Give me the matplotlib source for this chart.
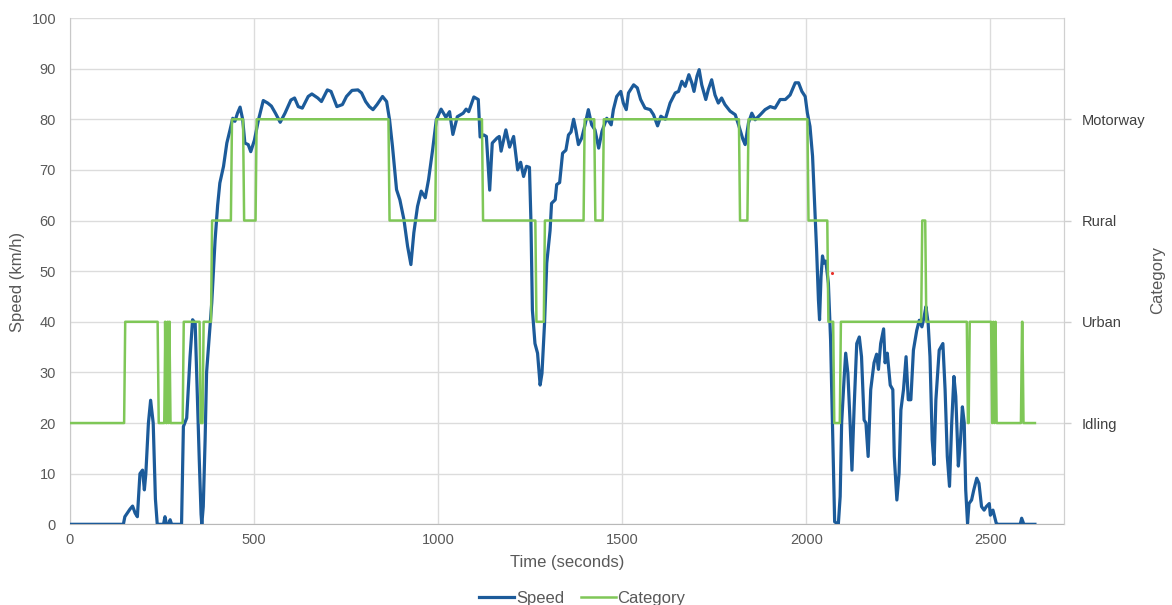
import matplotlib
matplotlib.use("Agg")
import matplotlib.pyplot as plt

# Speed trace (time in s, speed in km/h)
speed_t = [0, 145, 149, 163, 170, 177, 183, 190, 197, 202, 206, 213, 219, 226, 232, 237,
           254, 258, 262, 268, 272, 276, 303, 308, 317, 326, 333, 340, 344, 351, 356, 358,
           362, 367, 371, 378, 385, 394, 401, 407, 417, 426, 435, 442, 448, 455, 462, 469,
           475, 484, 491, 501, 512, 525, 537, 547, 558, 571, 584, 600, 610, 620, 631, 647,
           657, 673, 683, 699, 709, 725, 740, 751, 766, 782, 792, 803, 813, 823, 834, 849,
           860, 868, 876, 887, 896, 907, 917, 926, 934, 944, 954, 965, 974, 985, 995, 1008,
           1021, 1031, 1040, 1052, 1068, 1076, 1083, 1097, 1109, 1114, 1124, 1131, 1140, 1147,
           1160, 1166, 1171, 1184, 1194, 1205, 1216, 1224, 1232, 1240, 1248, 1252, 1256, 1263,
           1270, 1277, 1282, 1289, 1295, 1304, 1308, 1318, 1322, 1330, 1338, 1347, 1354, 1361,
           1368, 1374, 1381, 1390, 1399, 1408, 1417, 1426, 1436, 1445, 1458, 1470, 1476, 1485,
           1496, 1503, 1511, 1517, 1531, 1541, 1550, 1562, 1576, 1585, 1596, 1605, 1617, 1630,
           1644, 1653, 1662, 1671, 1681, 1689, 1695, 1703, 1709, 1716, 1727, 1734, 1743, 1752,
           1761, 1770, 1779, 1793, 1807, 1816, 1828, 1834, 1843, 1852, 1861, 1875, 1888, 1902,
           1915, 1929, 1943, 1956, 1970, 1979, 1988, 1997, 2003, 2010, 2017, 2024, 2028, 2033,
           2036, 2040, 2044, 2048, 2053, 2060, 2066, 2072, 2077, 2087, 2092, 2096, 2103, 2107,
           2113, 2119, 2124, 2130, 2137, 2144, 2150, 2157, 2162, 2168, 2175, 2184, 2191, 2196,
           2202, 2210, 2214, 2220, 2228, 2235, 2239, 2246, 2252, 2257, 2264, 2271, 2277, 2284,
           2291, 2300, 2307, 2314, 2320, 2325, 2331, 2336, 2342, 2347, 2352, 2361, 2371, 2377,
           2383, 2389, 2395, 2401, 2406, 2413, 2419, 2424, 2429, 2433, 2438, 2442, 2449, 2455,
           2463, 2469, 2476, 2483, 2489, 2497, 2500, 2507, 2516, 2521, 2581, 2585, 2591, 2621]
speed_v = [0, 0, 1.5, 3, 3.6, 2.2, 1.5, 10, 10.7, 6.8, 10, 20, 24.5, 20, 5, 0,
           0, 1.5, 0, 0, 0.9, 0, 0, 19.3, 21, 33, 40.4, 39.7, 30, 13, 2, 0,
           3.5, 16.7, 30, 36.8, 43.7, 56, 63, 67.4, 70.7, 75.3, 78, 80.2, 79.6, 81.2, 82.4, 80,
           75.3, 75, 73.6, 75.9, 79.9, 83.7, 83.2, 82.6, 81.2, 79.4, 81.2, 83.8, 84.2, 82.5, 82.2, 84.5,
           85.0, 84.2, 83.5, 85.8, 85.5, 82.5, 82.9, 84.5, 85.7, 85.8, 85.2, 83.5, 82.5, 81.9, 82.9, 84.5,
           83.5, 79.9, 74.6, 66.1, 64.1, 60.2, 54.9, 51.3, 57.6, 62.8, 65.8, 64.5, 68.1, 74.0, 79.9, 82.0,
           80.4, 81.5, 77, 80.5, 81.2, 82, 81.5, 84.4, 83.9, 76.5, 76.9, 76.6, 66, 75.3,
           76.3, 76.6, 73.7, 77.9, 74.5, 76.6, 70.0, 71.5, 68.7, 70.7, 70.5, 60, 42.3, 35.7,
           33.8, 27.5, 29.8, 39.7, 51.6, 58, 63.4, 64.1, 67.1, 67.5, 73.3, 73.9, 76.9, 77.5,
           80.0, 77.9, 75.0, 76.3, 78.9, 81.9, 78.9, 77.9, 74.3, 77.6, 80.2, 78.9, 81.9, 84.5,
           85.5, 83.2, 81.9, 85.2, 86.8, 86.2, 83.9, 82.2, 81.9, 80.9, 78.7, 80.6, 80.0, 83.2,
           85.2, 85.5, 87.5, 86.5, 88.8, 87.2, 85.5, 88.5, 89.8, 86.8, 83.9, 85.9, 87.8, 84.8,
           83.2, 84.2, 82.9, 81.6, 80.9, 78.9, 76.0, 75.0, 79.3, 81.2, 79.9, 80.9, 81.9, 82.5,
           82.2, 83.9, 83.9, 84.8, 87.2, 87.2, 85.5, 84.5, 81.2, 78.6, 72.7, 60.8, 54.2, 44.3,
           40.4, 48.9, 53.0, 51.6, 52.0, 47.6, 36.4, 16.7, 0.5, 0, 5.5, 20, 29.2, 33.8,
           29.8, 20, 10.7, 23.2, 35.7, 37.0, 33.1, 20.6, 20.0, 13.4, 26.6, 31.9, 33.6, 30.6,
           35.7, 38.6, 31.9, 33.8, 27.5, 26.6, 13.4, 4.8, 10.1, 22.6, 26.6, 33.1, 24.6, 24.6,
           34.4, 38.3, 40.3, 39.0, 41.0, 43.0, 39.7, 33.1, 16.7, 11.8, 24.6, 34.4, 35.7, 26.6,
           13.4, 7.5, 20.0, 29.2, 25.3, 11.5, 16.7, 23.2, 20.0, 6.8, 0.2, 4.1, 4.8, 6.8,
           9.1, 8.1, 3.5, 2.8, 3.5, 4.1, 1.8, 2.8, 0.2, 0, 0, 1.2, 0, 0]

# Category: level holds from each start time until the next one
cat_start = [0, 147, 238, 256, 258, 263, 265, 268, 270, 306, 352, 360, 383, 437, 470, 504,
             865, 992, 1119, 1264, 1287, 1395, 1424, 1447, 1817, 1840, 2003, 2057, 2073, 2091,
             2312, 2323, 2436, 2441, 2502, 2505, 2508, 2511, 2514, 2583, 2587]
cat_level = [20, 40, 20, 40, 20, 40, 20, 40, 20, 40, 20, 40, 60, 80, 60, 80,
             60, 80, 60, 40, 60, 80, 60, 80, 60, 80, 60, 40, 20, 40,
             60, 40, 20, 40, 20, 40, 20, 40, 20, 40, 20]
cat_end = 2621

cat_ticks = [20, 40, 60, 80]
cat_names = ["Idling", "Urban", "Rural", "Motorway"]

marker_t = [2070]
marker_v = [49.7]

blue = "#1c5b9a"
green = "#7fc757"
grid_c = "#dcdcdc"
txt_c = "#595959"

plt.rcParams["font.family"] = ["Liberation Sans", "DejaVu Sans"]

# category polyline with a short ramp at each change
ramp = 3
cx, cy = [], []
for i, (s, lv) in enumerate(zip(cat_start, cat_level)):
    e = cat_start[i + 1] if i + 1 < len(cat_start) else cat_end
    cx += [s + (ramp if i > 0 else 0), e]
    cy += [lv, lv]

W, H = 1172, 605
fig = plt.figure(figsize=(W / 100, H / 100), dpi=100)
ax = fig.add_axes([70 / W, (H - 524.3) / H, (1064 - 70) / W, (524.3 - 18) / H])

ax.plot(speed_t, speed_v, color=blue, lw=2.3, solid_joinstyle="round", label="Speed", zorder=3)
ax.plot(cx, cy, color=green, lw=1.8, label="Category", zorder=4)
ax.scatter(marker_t, marker_v, s=5, color="#e8322b", zorder=5, linewidths=0)

ax.set_xlim(0, 2700)
ax.set_ylim(0, 100)
ax.set_xticks([0, 500, 1000, 1500, 2000, 2500])
ax.set_yticks(range(0, 101, 10))
ax.grid(True, color=grid_c, lw=1)
ax.set_axisbelow(True)
ax.tick_params(length=0, labelsize=10.5, colors=txt_c)
ax.tick_params(axis="y", pad=10)
ax.tick_params(axis="x", pad=6)
ax.spines["top"].set_visible(False)
ax.spines["left"].set_color("#c8c8c8")
ax.spines["bottom"].set_color("#b8b8b8")
ax.spines["right"].set_color("#d0d0d0")

ax2 = ax.twinx()
ax2.set_ylim(0, 100)
ax2.set_yticks(cat_ticks)
ax2.set_yticklabels(cat_names)
ax2.tick_params(length=5, width=1, color="#cfcfcf", pad=8, labelsize=10.5, labelcolor="#404040")
for side in ["top", "left", "bottom"]:
    ax2.spines[side].set_visible(False)
ax2.spines["right"].set_color("#d0d0d0")

ax.set_xlabel("Time (seconds)", fontsize=12, color=txt_c, labelpad=6)
fig.text(18 / W, 1 - 282 / H, "Speed (km/h)", rotation=90, fontsize=12, color=txt_c,
         ha="center", va="center")
fig.text(1158 / W, 1 - 280 / H, "Category", rotation=90, fontsize=12, color=txt_c,
         ha="center", va="center")

fig.legend(loc="center", bbox_to_anchor=(0.497, 1 - 598 / H), ncol=2, frameon=False,
           fontsize=12, handlelength=2.1, handletextpad=0.1, columnspacing=1.0,
           labelcolor=txt_c)

fig.savefig("out.png", dpi=100)
